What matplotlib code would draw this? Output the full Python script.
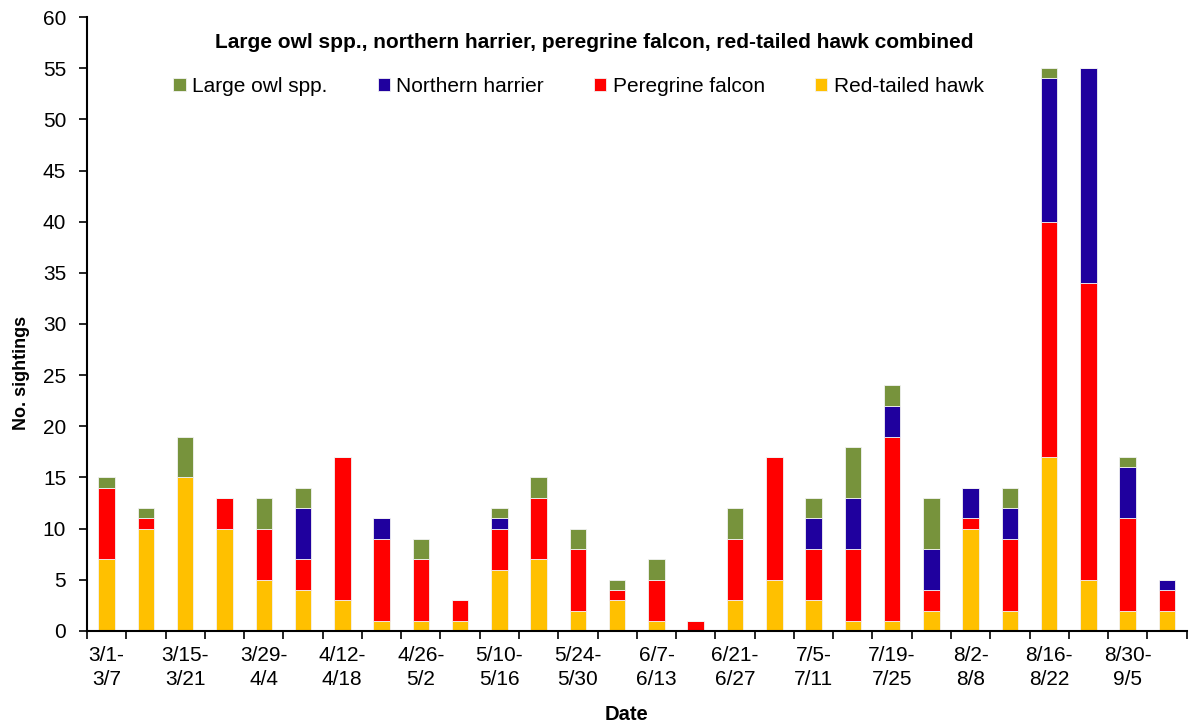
"""Weekly raptor sightings, stacked by species (Mar–Sep)."""
import numpy as np
import matplotlib
matplotlib.use("Agg")
import matplotlib.pyplot as plt

plt.rcParams["font.family"] = ["Liberation Sans", "DejaVu Sans"]

# ── data ──────────────────────────────────────────────────────────────────────
weeks = ["3/1-\n3/7", "3/8", "3/15-\n3/21", "3/22", "3/29-\n4/4", "4/5",
         "4/12-\n4/18", "4/19", "4/26-\n5/2", "5/3", "5/10-\n5/16", "5/17",
         "5/24-\n5/30", "5/31", "6/7-\n6/13", "6/14", "6/21-\n6/27", "6/28",
         "7/5-\n7/11", "7/12", "7/19-\n7/25", "7/26", "8/2-\n8/8", "8/9",
         "8/16-\n8/22", "8/23", "8/30-\n9/5", "9/6"]
red_tailed = [7, 10, 15, 10, 5, 4, 3, 1, 1, 1, 6, 7, 2, 3,
              1, 0, 3, 5, 3, 1, 1, 2, 10, 2, 17, 5, 2, 2]
peregrine = [7, 1, 0, 3, 5, 3, 14, 8, 6, 2, 4, 6, 6, 1,
             4, 1, 6, 12, 5, 7, 18, 2, 1, 7, 23, 29, 9, 2]
harrier = [0, 0, 0, 0, 0, 5, 0, 2, 0, 0, 1, 0, 0, 0,
           0, 0, 0, 0, 3, 5, 3, 4, 3, 3, 14, 21, 5, 1]
large_owl = [1, 1, 4, 0, 3, 2, 0, 0, 2, 0, 1, 2, 2, 1,
             2, 0, 3, 0, 2, 5, 2, 5, 0, 2, 1, 0, 1, 0]

series = [("Red-tailed hawk", red_tailed, "#FFC000"),
          ("Peregrine falcon", peregrine, "#FF0000"),
          ("Northern harrier", harrier, "#1F009E"),
          ("Large owl spp.", large_owl, "#77933C")]

# ── plot ──────────────────────────────────────────────────────────────────────
fig = plt.figure(figsize=(11.89, 7.24), dpi=100)
ax = fig.add_axes([0.0732, 0.1285, 0.9248, 0.848])

x = np.arange(len(weeks))
bottom = np.zeros(len(weeks))
handles = {}
for name, vals, color in series:
    vals = np.array(vals, dtype=float)
    h = ax.bar(x, vals, 0.42, bottom=bottom, color=color,
               edgecolor="#F2F2F2", linewidth=0.6, label=name)
    handles[name] = h
    bottom += vals

ax.set_xlim(-0.5, len(weeks) - 0.5)
ax.set_ylim(0, 60)
ax.set_yticks(np.arange(0, 61, 5))
ax.tick_params(axis="y", direction="out", length=6, width=1.2,
               labelsize=15, pad=9)

# labels on every other week, tick marks on week boundaries
ax.set_xticks(x[::2])
ax.set_xticklabels(weeks[::2], fontsize=15, linespacing=1.35)
ax.set_xticks(np.arange(-0.5, len(weeks), 1), minor=True)
ax.tick_params(axis="x", which="major", length=0, pad=11)
ax.tick_params(axis="x", which="minor", direction="out", length=6, width=1.2)

for side in ("top", "right"):
    ax.spines[side].set_visible(False)
for side in ("left", "bottom"):
    ax.spines[side].set_linewidth(1.5)

ax.set_ylabel("No. sightings", fontsize=13, fontweight="bold")
ax.yaxis.set_label_coords(-0.052, 0.42)
ax.set_xlabel("Date", fontsize=14.5, fontweight="bold")
ax.xaxis.set_label_coords(0.491, -0.12)

ax.text(0.461, 0.959, "Large owl spp., northern harrier, peregrine falcon, "
        "red-tailed hawk combined", transform=ax.transAxes, ha="center",
        va="center", fontsize=15, fontweight="bold")

order = ["Large owl spp.", "Northern harrier", "Peregrine falcon", "Red-tailed hawk"]
ax.legend([handles[n] for n in order], order, loc="center", ncol=4,
          bbox_to_anchor=(0.447, 0.887), frameon=False, fontsize=15,
          handlelength=0.6, handleheight=0.6, handletextpad=0.3,
          columnspacing=2.4)

fig.savefig("out.png", dpi=100)
